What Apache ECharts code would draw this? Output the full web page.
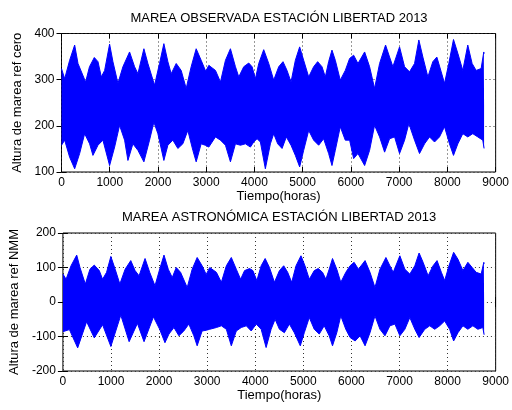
<!DOCTYPE html>
<html>
<head>
<meta charset="utf-8">
<script src="https://cdn.jsdelivr.net/npm/echarts@6/dist/echarts.min.js"></script>
<style>
  html, body { margin: 0; padding: 0; background: #fff; }
  #chart { width: 512px; height: 410px; }
</style>
</head>
<body>
<div id="chart"></div>
<script>
  // envolventes (horas, cm)
  const obsUpperHours = [0,66,169,273,342,500,580,680,756,825,894,997,1066,1170,1273,1411,1515,1584,1708,1791,1929,2032,2122,2205,2274,2378,2481,2585,2688,2792,2895,2990,3054,3192,3295,3399,3502,3606,3675,3778,3882,3951,4020,4089,4192,4296,4399,4503,4592,4675,4758,4848,4937,5020,5124,5227,5310,5400,5469,5538,5607,5676,5779,5883,5973,6056,6146,6284,6387,6490,6594,6718,6801,6870,7008,7112,7215,7319,7408,7491,7595,7698,7781,7871,7940,8029,8126,8216,8319,8422,8512,8595,8699,8754,8760];
  const obsUpper = [324,302,342,375,335,295,328,348,339,306,320,377,339,292,328,360,328,313,367,335,288,335,378,339,313,335,320,281,328,367,342,318,331,320,295,342,367,328,306,328,336,328,302,335,365,335,299,328,339,320,295,342,371,342,306,328,339,328,306,339,364,342,299,320,346,353,335,360,328,281,335,375,349,328,371,328,317,335,386,349,306,339,349,317,292,335,387,357,320,375,335,320,324,360,356];

  const obsLowerHours = [0,66,169,273,376,480,583,652,756,859,997,1101,1204,1308,1377,1480,1584,1708,1825,1915,1998,2122,2205,2309,2412,2515,2619,2723,2792,2895,2980,3054,3192,3295,3399,3502,3606,3709,3813,3916,3985,4054,4123,4226,4330,4399,4482,4572,4661,4758,4848,4937,5020,5124,5227,5331,5434,5538,5607,5676,5779,5883,5973,6056,6146,6284,6387,6490,6594,6698,6801,6905,7008,7112,7201,7319,7422,7526,7629,7733,7836,7940,8043,8126,8216,8319,8422,8526,8630,8733,8760];
  const obsLower = [158,169,132,107,140,183,161,136,158,169,114,154,201,169,125,161,147,122,169,208,183,125,158,169,151,161,190,147,122,161,158,154,176,169,158,122,161,158,161,154,165,172,165,107,161,183,161,151,176,158,136,111,147,190,169,158,172,140,114,147,198,169,169,129,140,114,147,201,176,143,172,176,140,169,205,169,140,161,176,165,176,198,161,136,161,183,176,183,176,169,151];

  const astUpperHours = [0,66,169,287,355,466,562,652,756,825,908,997,1087,1184,1294,1411,1501,1584,1708,1805,1915,2012,2102,2191,2274,2357,2447,2585,2688,2792,2895,2980,3054,3192,3295,3399,3502,3606,3695,3778,3882,3951,4033,4123,4206,4296,4399,4503,4592,4675,4758,4848,4951,5034,5124,5227,5310,5400,5469,5538,5607,5696,5779,5883,5973,6056,6146,6284,6387,6490,6594,6718,6801,6870,7008,7112,7215,7319,7408,7491,7595,7698,7781,7871,7940,8029,8126,8216,8319,8422,8512,8595,8699,8754,8760];
  const astUpper = [81,66,105,136,100,52,95,107,91,66,86,132,95,52,95,120,91,76,126,86,47,95,136,95,71,100,86,42,95,129,105,80,100,86,57,105,129,95,66,91,97,91,62,105,126,100,57,91,105,86,57,105,134,105,66,91,97,86,66,95,126,95,57,86,105,115,95,120,86,42,95,129,105,86,134,95,81,105,142,115,76,105,120,86,62,105,144,124,91,115,100,86,81,115,110];

  const astLowerHours = [0,135,307,493,652,825,997,1204,1377,1549,1687,1883,2012,2122,2205,2309,2412,2515,2619,2723,2792,2895,2980,3054,3192,3295,3399,3502,3606,3709,3813,3916,4020,4123,4226,4330,4413,4503,4606,4710,4813,4937,5020,5124,5227,5331,5434,5538,5607,5696,5779,5883,5973,6077,6180,6284,6387,6490,6594,6698,6801,6905,7008,7112,7215,7319,7408,7526,7629,7733,7836,7940,8043,8126,8216,8319,8422,8526,8630,8733,8760];
  const astLower = [-86,-80,-133,-57,-104,-66,-129,-38,-115,-62,-115,-43,-79,-118,-93,-74,-98,-84,-64,-98,-127,-84,-82,-79,-74,-69,-79,-127,-84,-74,-69,-84,-64,-79,-132,-79,-50,-79,-89,-64,-89,-127,-89,-45,-79,-93,-69,-98,-127,-89,-40,-79,-103,-113,-98,-127,-89,-40,-79,-98,-69,-64,-98,-79,-45,-79,-103,-79,-69,-79,-69,-55,-79,-113,-89,-69,-79,-69,-79,-74,-95];

  const xTicks = [0, 9000, 1000];
  const obsTicks = [100, 400, 100];
  const astTicks = [-200, 200, 100];

  const FONT = 'Liberation Sans';
  const BLUE = '#0000ff';

  const pairs = (hs, vs) => hs.map((h, i) => [h, vs[i]]);
  const plain = v => String(v);

  function xAxes(gridIndex) {
    const base = {
      type: 'value', gridIndex: gridIndex,
      min: xTicks[0], max: xTicks[1], interval: xTicks[2],
      axisLine: { show: false },
      axisTick: { show: true, inside: true, length: 5, lineStyle: { color: '#000' } }
    };
    return [
      Object.assign({}, base, {
        position: 'bottom',
        name: 'Tiempo(horas)', nameLocation: 'middle', nameGap: 18,
        nameTextStyle: { fontFamily: FONT, fontSize: 13, color: '#000' },
        axisLabel: { fontFamily: FONT, fontSize: 12, color: '#000', margin: 5, formatter: plain },
        splitLine: { show: true, lineStyle: { type: [1, 3], color: '#333', width: 1 } }
      }),
      Object.assign({}, base, {
        position: 'top', axisLabel: { show: false }, splitLine: { show: false }
      })
    ];
  }

  function yAxes(gridIndex, ticks, name) {
    const base = {
      type: 'value', gridIndex: gridIndex,
      min: ticks[0], max: ticks[1], interval: ticks[2],
      axisLine: { show: false },
      axisTick: { show: true, inside: true, length: 5, lineStyle: { color: '#000' } }
    };
    return [
      Object.assign({}, base, {
        position: 'left',
        name: name, nameLocation: 'middle', nameGap: 25,
        nameTextStyle: { fontFamily: FONT, fontSize: 13, color: '#000' },
        axisLabel: { fontFamily: FONT, fontSize: 12, color: '#000', margin: 7, formatter: plain },
        splitLine: { show: true, lineStyle: { type: [1, 3], color: '#333', width: 1 } }
      }),
      Object.assign({}, base, {
        position: 'right', axisLabel: { show: false }, splitLine: { show: false }
      })
    ];
  }

  function band(xi, yi, data, origin) {
    return {
      type: 'line', xAxisIndex: xi, yAxisIndex: yi,
      data: data, showSymbol: false, silent: true,
      lineStyle: { color: BLUE, width: 1 },
      areaStyle: { color: BLUE, opacity: 1, origin: origin }
    };
  }

  const chart = echarts.init(document.getElementById('chart'), null, { renderer: 'canvas' });
  chart.setOption({
    animation: false,
    backgroundColor: '#fff',
    title: [
      { text: 'MAREA OBSERVADA ESTACIÓN LIBERTAD 2013', left: 279, top: 12, textAlign: 'center', padding: 0,
        textStyle: { fontFamily: FONT, fontSize: 13, fontWeight: 'normal', color: '#000' } },
      { text: 'MAREA ASTRONÓMICA ESTACIÓN LIBERTAD 2013', left: 279, top: 211, textAlign: 'center', padding: 0,
        textStyle: { fontFamily: FONT, fontSize: 13, fontWeight: 'normal', color: '#000' } }
    ],
    grid: [
      { left: 61.5, top: 33.5, width: 435.5, height: 138.5, show: true, borderColor: '#000', borderWidth: 1 },
      { left: 61.5, top: 233, width: 435.5, height: 138, show: true, borderColor: '#000', borderWidth: 1 }
    ],
    xAxis: xAxes(0).concat(xAxes(1)),
    yAxis: yAxes(0, obsTicks, 'Altura de marea ref cero').concat(yAxes(1, astTicks, 'Altura de marea ref NMM')),
    series: [
      band(0, 0, pairs(obsUpperHours, obsUpper), 245),
      band(0, 0, pairs(obsLowerHours, obsLower), 245),
      band(2, 2, pairs(astUpperHours, astUpper), 0),
      band(2, 2, pairs(astLowerHours, astLower), 0)
    ]
  });
</script>
</body>
</html>
